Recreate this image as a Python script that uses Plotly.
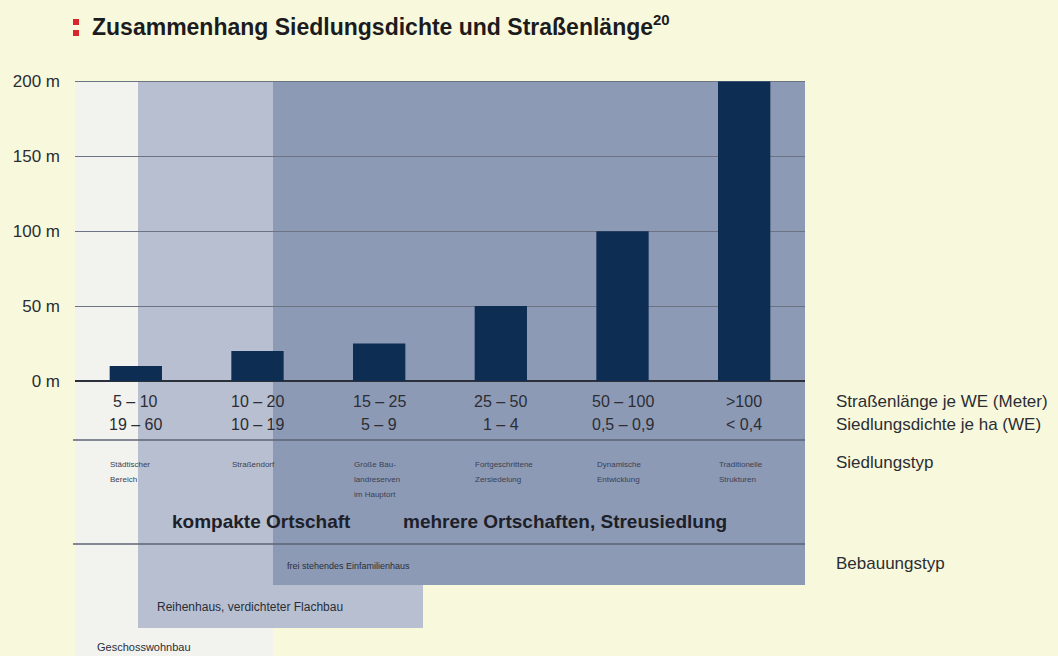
import plotly.graph_objects as go

# ---------------- data ----------------
strassenlaenge_labels = ["5 – 10", "10 – 20", "15 – 25", "25 – 50", "50 – 100", ">100"]
siedlungsdichte_labels = ["19 – 60", "10 – 19", "5 – 9", "1 – 4", "0,5 – 0,9", "< 0,4"]
siedlungstyp_labels = [["Städtischer", "Bereich"], ["Straßendorf"],
                       ["Große Bau-", "landreserven", "im Hauptort"],
                       ["Fortgeschrittene", "Zersiedelung"],
                       ["Dynamische", "Entwicklung"], ["Traditionelle", "Strukturen"]]
strassenlaenge_m = [10, 20, 25, 50, 100, 200]
y_tick_values = [0, 50, 100, 150, 200]
row_titles = ["Straßenlänge je WE (Meter)", "Siedlungsdichte je ha (WE)",
              "Siedlungstyp", "Bebauungstyp"]
gruppen = ["kompakte Ortschaft", "mehrere Ortschaften, Streusiedlung"]
bebauung = ["Geschosswohnbau", "Reihenhaus, verdichteter Flachbau",
            "frei stehendes Einfamilienhaus"]

# ---------------- geometry / style ----------------
W, H = 1058, 656
PL, PR, PT, PB = 75, 805, 80, 381   # plot area in pixels
TOP = 81                            # pixel row of the 200 m line


def px(p):   # pixel x -> paper x
    return (p - PL) / (PR - PL)


def py(p):   # pixel y -> paper y
    return (PB - p) / (PB - PT)


FONT = "Liberation Sans, Arial, Helvetica, sans-serif"
BG = "#f8f9dc"
BAR = "#0e2d52"
TXT = "#2b2d33"

fig = go.Figure()
fig.add_trace(go.Bar(
    x=strassenlaenge_labels, y=strassenlaenge_m,
    marker=dict(color=BAR, line=dict(width=0)),
    width=0.43, hoverinfo="skip", showlegend=False,
))

shapes = []
# Bebauungstyp bands (left px, right px, bottom px, colour)
bands = [
    (PL, 273, 656, "#f2f3ef"),
    (138, 423, 628, "#b8bfd0"),
    (273, PR, 585, "#8d9ab6"),
]
for x0, x1, yb, col in bands:
    shapes.append(dict(type="rect", xref="paper", yref="paper",
                       x0=px(x0), x1=px(x1), y0=py(yb), y1=py(TOP),
                       fillcolor=col, line=dict(width=0), layer="below"))
# separator lines
for yl in (440, 544):
    shapes.append(dict(type="line", xref="paper", yref="paper",
                       x0=px(PL - 2), x1=px(PR), y0=py(yl), y1=py(yl),
                       line=dict(color="#5d6372", width=1.3), layer="below"))
# red title marker
for y0 in (19, 30):
    shapes.append(dict(type="rect", xref="paper", yref="paper",
                       x0=px(73), x1=px(79), y0=py(y0 + 6), y1=py(y0),
                       fillcolor="#d8262c", line=dict(width=0)))

ann = []
ann.append(dict(text="<b>Zusammenhang Siedlungsdichte und Straßenlänge"
                     "<sup><span style='font-size:15px'>20</span></sup></b>",
                xref="paper", yref="paper", x=px(90), y=py(26),
                xanchor="left", yanchor="middle", showarrow=False,
                font=dict(family=FONT, size=23, color="#1c1c1e")))

bar_half = 0.43 / 2
for i, cat in enumerate(strassenlaenge_labels):
    ann.append(dict(text=cat, xref="x", yref="paper", x=i, y=py(402),
                    xanchor="center", yanchor="middle", showarrow=False,
                    font=dict(family=FONT, size=16, color=TXT)))
    ann.append(dict(text=siedlungsdichte_labels[i], xref="x", yref="paper", x=i, y=py(424),
                    xanchor="center", yanchor="middle", showarrow=False,
                    font=dict(family=FONT, size=16, color=TXT)))
    for k, line in enumerate(siedlungstyp_labels[i]):
        ann.append(dict(text=line, xref="x", yref="paper", x=i - bar_half - 0.01,
                        y=py(464 + 15 * k), xanchor="left", yanchor="middle",
                        showarrow=False,
                        font=dict(family=FONT, size=8, color="#3a4152")))

for txt, yp in zip(row_titles, (402, 424, 462, 563)):
    ann.append(dict(text=txt, xref="paper", yref="paper", x=px(834), y=py(yp),
                    xanchor="left", yanchor="middle", showarrow=False,
                    font=dict(family=FONT, size=17, color=TXT)))

for txt, xc in zip(gruppen, (261, 565)):
    ann.append(dict(text="<b>" + txt + "</b>", xref="paper", yref="paper",
                    x=px(xc), y=py(521), xanchor="center", yanchor="middle",
                    showarrow=False, font=dict(family=FONT, size=19, color="#1d2029")))

for txt, xl, yp, fs in zip(bebauung, (95, 155, 285), (647, 607, 566), (11, 12, 9)):
    ann.append(dict(text=txt, xref="paper", yref="paper", x=px(xl), y=py(yp),
                    xanchor="left", yanchor="middle", showarrow=False,
                    font=dict(family=FONT, size=fs, color="#2a2e38")))

fig.update_layout(
    width=W, height=H, autosize=False,
    margin=dict(l=PL, r=W - PR, t=PT, b=H - PB, pad=0),
    paper_bgcolor=BG, plot_bgcolor="rgba(0,0,0,0)",
    shapes=shapes, annotations=ann, showlegend=False,
    xaxis=dict(type="category", range=[-0.5, 5.5], showticklabels=False,
               showgrid=False, zeroline=False, showline=False, ticks=""),
    yaxis=dict(range=[0, 201], tickvals=y_tick_values,
               ticktext=[f"{v} m" for v in y_tick_values],
               tickfont=dict(family=FONT, size=17, color=TXT),
               showgrid=True, gridcolor="#6c7484", gridwidth=1,
               zeroline=True, zerolinecolor="#2c303a", zerolinewidth=2,
               showline=False, ticks="", ticklabelstandoff=14),
    bargap=0.57,
)

fig.write_html("out.html")
